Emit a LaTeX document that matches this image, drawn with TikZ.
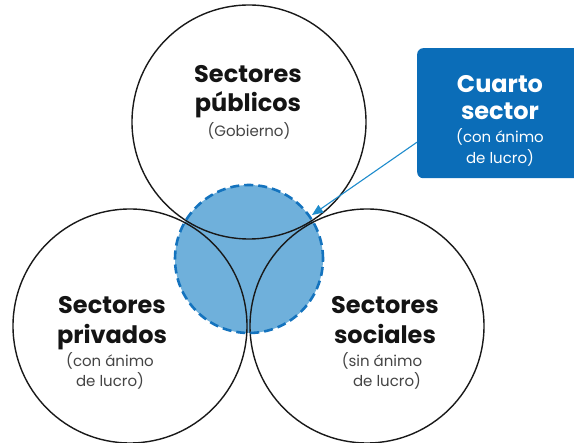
\documentclass[tikz,border=0pt]{standalone}
\usepackage{fontspec}
\setmainfont{Poppins}
\usetikzlibrary{arrows.meta}
\definecolor{fourfill}{HTML}{6FB0DB}
\definecolor{fourline}{HTML}{1473BE}
\definecolor{boxblue}{HTML}{0B6DB8}
\definecolor{arrowblue}{HTML}{1E8CCD}
\definecolor{subgray}{HTML}{444444}
\begin{document}
\begin{tikzpicture}[x=1pt,y=-1pt,
  sector/.style={circle,draw=black!90,line width=1.4pt,minimum size=234pt,inner sep=0pt},
  title/.style={font=\bfseries\fontsize{24}{29}\selectfont,text=black!92,anchor=base,inner sep=0pt},
  sub/.style={font=\fontsize{15}{20}\selectfont,text=subgray,anchor=base,inner sep=0pt},
  wtitle/.style={title,text=white},
  wsub/.style={sub,text=white},
  fourarea/.style={circle,fill=fourfill,minimum size=148pt,inner sep=0pt},
  fourrim/.style={circle,draw=fourline,line width=2.6pt,dash pattern=on 9pt off 5pt,minimum size=148pt,inner sep=0pt},
  infobox/.style={fill=boxblue,rounded corners=6pt,minimum width=170pt,minimum height=130pt,inner sep=0pt,anchor=north west},
  pointer/.style={draw=arrowblue,line width=1.1pt,-{Triangle[length=11pt,width=9pt]}}]
\useasboundingbox (0,0) rectangle (574,443);
\fill[white] (0,0) rectangle (574,443);
% fourth sector area
\node[fourarea] (four) at (249,259) {};
% three sectors
\node[sector] (pub) at (249,122) {};
\node[sector] (priv) at (130,326) {};
\node[sector] (soc) at (367,326) {};
\node[fourrim] (fourb) at (249,259) {};
% texts
\node[title] (pub1) at (248,83) {Sectores};
\node[title] (pub2) at (248,112) {públicos};
\node[sub] (pub3) at (249,137) {(Gobierno)};
\node[title] (priv1) at (112,314) {Sectores};
\node[title] (priv2) at (112,344) {privados};
\node[sub] (priv3) at (110,367) {(con ánimo};
\node[sub] (priv4) at (110,387) {de lucro)};
\node[title] (soc1) at (385,314) {Sectores};
\node[title] (soc2) at (385,344) {sociales};
\node[sub] (soc3) at (382,367) {(sin ánimo};
\node[sub] (soc4) at (387,387) {de lucro)};
% box
\node[infobox] (box) at (417,48) {};
\node[wtitle] (box1) at (500,93) {Cuarto};
\node[wtitle] (box2) at (500,120) {sector};
\node[wsub] (box3) at (500,143) {(con ánimo};
\node[wsub] (box4) at (500,164) {de lucro)};
\coordinate (tip) at (312,215);
\draw[pointer] ([yshift=-29pt]box.west) -- (tip);
\end{tikzpicture}
\end{document}
